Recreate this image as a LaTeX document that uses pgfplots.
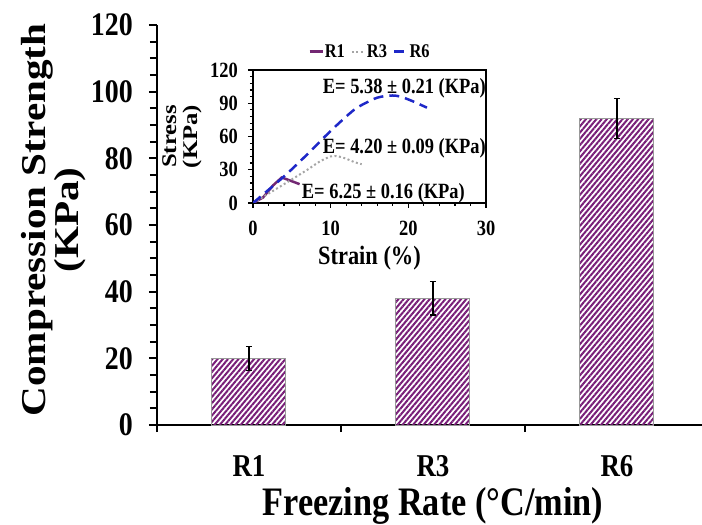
\documentclass[border=0pt]{standalone}
\usepackage{pgfplots}
\pgfplotsset{compat=1.18}
\usepackage{pgfplotstable}
\usepackage{graphicx}
\usepackage{fontspec}
\setmainfont{Liberation Serif}
\usetikzlibrary{patterns.meta}

\definecolor{barpurple}{RGB}{120,30,120}
\definecolor{rone}{RGB}{115,40,115}
\definecolor{rthree}{RGB}{165,165,165}
\definecolor{rsix}{RGB}{30,40,200}

% the source picture is stretched vertically, so is the text here
\newcommand{\sy}[1]{\scalebox{1}[1.18]{#1}}
\newcommand{\sx}[1]{\scalebox{1.18}[1]{#1}}
\newcommand{\fnt}[1]{\fontsize{#1}{#1}\selectfont\bfseries}

\pgfplotstableread{
x val err
0 20 3.6
1 38 5
2 92 6
}\strength

\begin{document}
\begin{tikzpicture}
% main bar chart
\begin{axis}[
    at={(0,0)}, anchor=south west,
    scale only axis, width=545bp, height=400bp,
    xmin=-0.5, xmax=2.462, ymin=0, ymax=120,
    axis x line*=bottom, axis y line*=left,
    axis line style={line width=2.5bp},
    xtick={0,1,2}, xticklabels={\sy{R1},\sy{R3},\sy{R6}},
    major x tick style={draw=none},
    minor xtick={-0.5,0.5,1.5},
    ytick={0,20,...,120}, minor y tick num=3,
    tick align=outside,
    major tick length=8bp, minor tick length=7bp,
    every tick/.style={line width=2bp, black},
    /pgf/number format/assume math mode=true,
    yticklabel={\sy{\pgfmathprintnumber{\tick}}},
    yticklabel style={font=\fnt{28}, inner sep=0pt, xshift=-16bp},
    xticklabel style={font=\fnt{27}, inner sep=0pt, yshift=-22bp},
    ylabel={\sx{Compression Strength}\\\sx{(KPa)}},
    ylabel style={font=\fontsize{35}{32}\selectfont\bfseries, align=center,
        at={(axis description cs:-0.189,0.5125)}, anchor=center},
    xlabel={\sy{Freezing Rate (°C/min)}},
    xlabel style={font=\fnt{34.4}, at={(axis description cs:0.5064,-0.2275)}, anchor=base},
]
\addplot[ybar, bar width=74bp, bar shift=0pt, draw=gray!80, line width=1bp,
    pattern={Lines[angle=50, distance=4bp, line width=2bp]}, pattern color=barpurple,
    error bars/.cd, y dir=both, y explicit,
    error bar style={line width=1.5bp, black},
    error mark options={rotate=90, mark size=3bp, line width=1.5bp, black}]
    table[x=x, y=val, y error=err] {\strength};
\end{axis}

% inset: stress-strain curves
\begin{axis}[
    at={(96bp,222bp)}, anchor=south west,
    scale only axis, width=233bp, height=133bp,
    xmin=0, xmax=30, ymin=0, ymax=120,
    xtick={0,10,20,30}, ytick={0,30,...,120},
    minor x tick num=4, minor y tick num=4,
    xtick pos=left, ytick pos=left,
    tick align=outside,
    major tick length=5bp, minor tick length=3bp,
    every tick/.style={line width=1.2bp, black},
    axis line style={line width=1.5bp},
    /pgf/number format/assume math mode=true,
    xticklabel={\sy{\pgfmathprintnumber{\tick}}},
    yticklabel={\sy{\pgfmathprintnumber{\tick}}},
    ticklabel style={font=\fnt{18.5}, inner sep=0pt},
    xticklabel style={yshift=-13bp},
    yticklabel style={xshift=-10bp},
    xlabel={\sy{Strain (\%)}},
    xlabel style={font=\fnt{22.5}, at={(axis description cs:0.5,-0.30)}, anchor=north},
    ylabel={\sx{Stress}\\\sx{(KPa)}},
    ylabel style={font=\fnt{21}, align=center,
        at={(axis description cs:-0.305,0.5)}, anchor=center},
    legend style={at={(0.5,1)}, anchor=south, yshift=8bp, draw=none, fill=none,
        font=\fnt{16.5}, legend columns=3,
        nodes={inner sep=1bp},
        /tikz/every even column/.append style={column sep=5bp}},
    legend image code/.code={\draw[#1] (0bp,0bp) -- (13bp,0bp);},
]
\addplot[rone, line width=2.5bp] coordinates {
    (0,0) (1.3,5) (2.6,16) (3.7,23) (4.5,21) (6,17)
};
\addplot[rthree, line width=2bp, dash pattern=on 2bp off 2.5bp, smooth] coordinates {
    (0,0) (4,17) (7,30) (8.5,37) (10,42) (11,42) (12,40) (13,37) (14,35)
};
\addplot[rsix, line width=2.5bp, dash pattern=on 10bp off 6bp, smooth] coordinates {
    (0,0) (4,24) (7,44) (10,65) (13,84) (15,92) (16,95) (17,96.5) (18,97)
    (19,96) (20.5,92) (22.4,86)
};
\legend{\sy{R1},\sy{R3},\sy{R6}}
\node[anchor=east, inner sep=0pt, font=\fnt{18.5}] at (axis cs:30,103.8) {\sy{E= 5.38 ± 0.21 (KPa)}};
\node[anchor=east, inner sep=0pt, font=\fnt{18.5}] at (axis cs:30,49.6) {\sy{E= 4.20 ± 0.09 (KPa)}};
\node[anchor=east, inner sep=0pt, font=\fnt{18.5}] at (axis cs:27.3,9) {\sy{E= 6.25 ± 0.16 (KPa)}};
\end{axis}

\pgfresetboundingbox
\path[use as bounding box] (-157bp,-100bp) rectangle (545bp,425bp);
\end{tikzpicture}
\end{document}
